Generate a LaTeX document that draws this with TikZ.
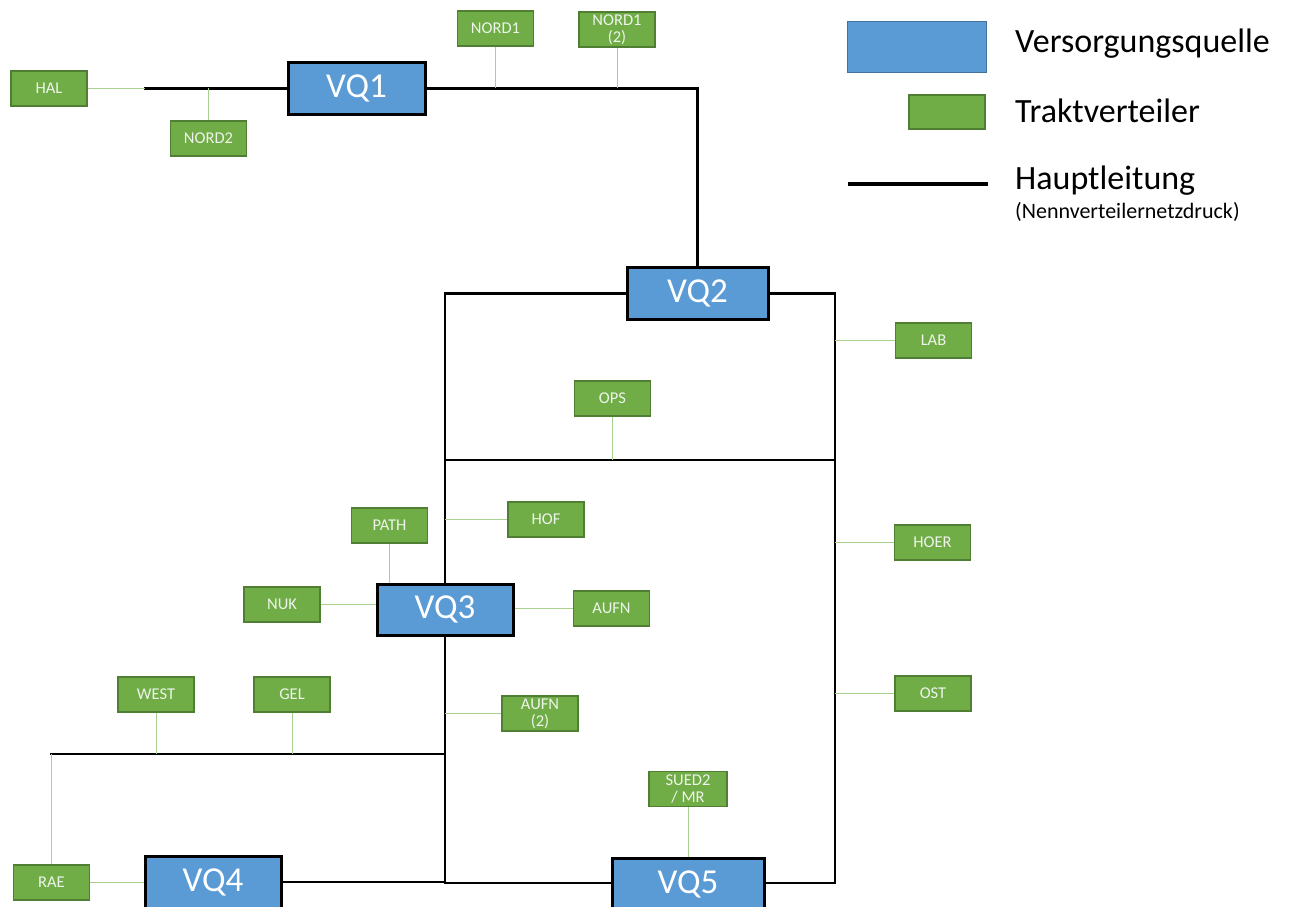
\documentclass[tikz,border=0pt]{standalone}
\usepackage{fontspec}
\setmainfont{Carlito}
\usetikzlibrary{backgrounds}
\definecolor{vqblue}{HTML}{5B9BD5}
\definecolor{vqblueedge}{HTML}{41719C}
\definecolor{tvgreen}{HTML}{70AD47}
\definecolor{tvedge}{HTML}{507E32}
\definecolor{tapgreen}{HTML}{A9D18E}
\definecolor{tvtext}{HTML}{EEF4EA}
\tikzset{
  source/.style={draw=black, line width=3pt, fill=vqblue, text=white,
    minimum width=#1, minimum height=52pt, inner sep=0pt,
    font=\fontsize{35}{37}\selectfont},
  source/.default=137pt,
  tract/.style={draw=tvedge, line width=1.8pt, fill=tvgreen, text=tvtext,
    minimum width=76pt, minimum height=35pt, inner sep=0pt, align=center,
    font=\fontsize{16.5}{17}\selectfont},
  mainline/.style={draw=black, line width=2.5pt, line cap=rect},
  tap/.style={draw=tapgreen, line width=1pt},
  legendtext/.style={anchor=west, inner sep=0pt, font=\fontsize{34}{36}\selectfont},
}
\begin{document}
\begin{tikzpicture}[x=1pt, y=-1pt]
\useasboundingbox (0,0) rectangle (1291,907);
\clip (0,0) rectangle (1291,907);

% supply sources
\node[source=137pt] (vq1) at (356.5,88.5) {VQ1};
\node[source=141pt] (vq2) at (697.5,293.5) {VQ2};
\node[source=136pt, minimum height=51pt] (vq3) at (445,609.5) {VQ3};
\node[source=136pt] (vq4) at (213,882) {VQ4};
\node[source=152pt] (vq5) at (688,884) {VQ5};

% tract distributors
\node[tract] (hal)   at (49,88.5)    {HAL};
\node[tract] (nord2) at (208.5,138.5){NORD2};
\node[tract] (nord1) at (495.5,28.5) {NORD1};
\node[tract] (nord1b) at (617,29.5)  {NORD1\\(2)};
\node[tract] (lab)   at (933.5,340.5){LAB};
\node[tract] (ops)   at (612.5,398.5){OPS};
\node[tract] (hof)   at (546,519.5)  {HOF};
\node[tract] (hoer)  at (932.5,542.5){HOER};
\node[tract] (path)  at (389.5,525.5){PATH};
\node[tract] (nuk)   at (282,604.5)  {NUK};
\node[tract] (aufn)  at (611.5,608.5){AUFN};
\node[tract] (aufnb) at (540,713.5)  {AUFN\\(2)};
\node[tract] (ost)   at (933,693.5)  {OST};
\node[tract] (west)  at (156,694.5)  {WEST};
\node[tract] (gel)   at (292,694.5)  {GEL};
\node[tract, minimum width=78pt] (sued) at (688,789) {SUED2\\/ MR};
\node[tract] (rae)   at (51.5,882.5) {RAE};

% junctions of the main lines
\coordinate (hstart) at (145,88.5);
\coordinate (tl) at (445,293.5);
\coordinate (tr) at (835,293.5);
\coordinate (ml) at (445,460);
\coordinate (mr) at (835,460);
\coordinate (bl) at (445,883);
\coordinate (br) at (835,883);
\coordinate (w0) at (51,754);
\coordinate (w1) at (445,754);

\begin{pgfonlayer}{background}
  % main lines
  \draw[mainline] (hstart) -- (vq1.west);
  \draw[mainline] (vq1.east) -| (vq2.north);
  \draw[mainline] (vq2.west) -- (tl) -- (bl) -- (vq5.west |- bl);
  \draw[mainline] (vq2.east) -- (tr) -- (br) -- (vq5.east |- br);
  \draw[mainline] (ml) -- (mr);
  \draw[mainline] (vq4.east) -- (vq4.east -| bl);
  \draw[mainline] (w0) -- (w1);

  % branch lines to the tract distributors
  \draw[tap] (hal.east) -- (hstart);
  \draw[tap] (nord2.north) -- (nord2.north |- hstart);
  \draw[tap] (nord1.south) -- (nord1.south |- vq1.east);
  \draw[tap] (nord1b.south) -- (nord1b.south |- vq1.east);
  \draw[tap] (lab.west) -- (lab.west -| tr);
  \draw[tap] (hoer.west) -- (hoer.west -| tr);
  \draw[tap] (ost.west) -- (ost.west -| tr);
  \draw[tap] (ops.south) -- (ops.south |- ml);
  \draw[tap] (hof.west) -- (hof.west -| tl);
  \draw[tap] (aufnb.west) -- (aufnb.west -| tl);
  \draw[tap] (path.south) -- (path.south |- vq3.north);
  \draw[tap] (nuk.east) -- (nuk.east -| vq3.west);
  \draw[tap] (aufn.west) -- (aufn.west -| vq3.east);
  \draw[tap] (sued.south) -- (sued.south |- vq5.north);
  \draw[tap] (west.south) -- (west.south |- w0);
  \draw[tap] (gel.south) -- (gel.south |- w0);
  \draw[tap] (w0) -- (rae.north -| w0);
  \draw[tap] (rae.east) -- (rae.east -| vq4.west);
\end{pgfonlayer}

% legend
\node[draw=vqblueedge, line width=1pt, fill=vqblue, minimum width=139pt,
      minimum height=51pt, inner sep=0pt] (legsrc) at (916.5,47.5) {};
\node[draw=tvedge, line width=1.5pt, fill=tvgreen, minimum width=76pt,
      minimum height=34pt, inner sep=0pt] (legtract) at (947,112) {};
\coordinate (legl) at (848,184);
\coordinate (legr) at (988,184);
\draw[draw=black, line width=3.5pt] (legl) -- (legr);
\node[legendtext] (legt1) at (1015,44) {Versorgungsquelle};
\node[legendtext] (legt2) at (1015,111) {Traktverteiler};
\node[legendtext] (legt3) at (1015,181) {Hauptleitung};
\node[legendtext, font=\fontsize{22}{24}\selectfont] (legt4) at (1015,212) {(Nennverteilernetzdruck)};
\end{tikzpicture}
\end{document}
